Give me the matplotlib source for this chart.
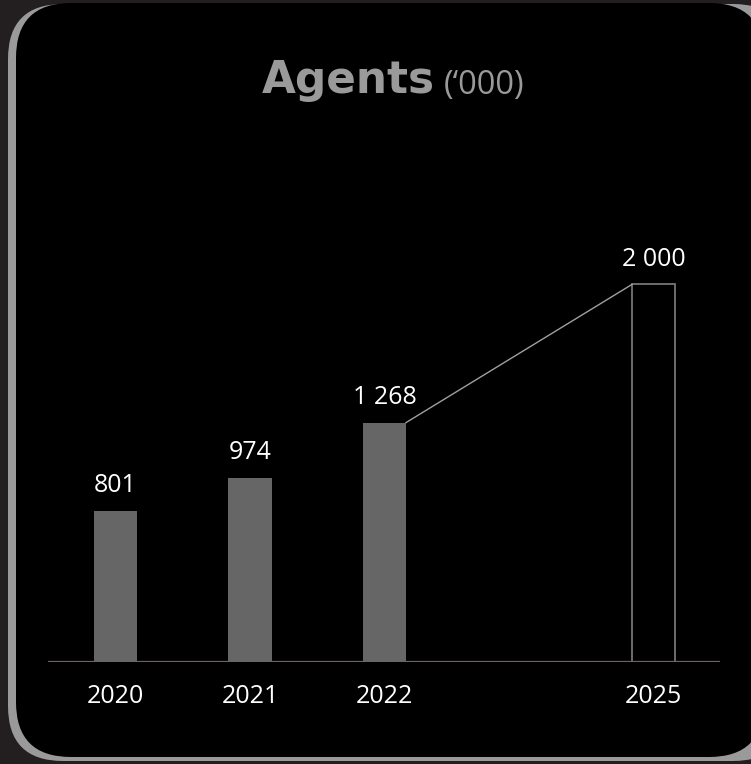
import matplotlib
matplotlib.use("Agg")
import matplotlib.pyplot as plt
from matplotlib.patches import FancyBboxPatch

years = ["2020", "2021", "2022", "2025"]
positions = [0, 1, 2, 4]
values = [801, 974, 1268, 2000]
value_labels = ["801", "974", "1 268", "2 000"]
filled = [True, True, True, False]

W, H = 751, 764
fig = plt.figure(figsize=(W / 100, H / 100), dpi=100)
fig.patch.set_facecolor("#231f20")

# background card
bg = fig.add_axes([0, 0, 1, 1])
bg.set_xlim(0, W)
bg.set_ylim(H, 0)
bg.axis("off")
r = 55
bg.add_patch(FancyBboxPatch((8 + r, 4 + r), 780 - 2 * r, 757 - 2 * r,
                            boxstyle=f"round,pad={r}", fc="#9a9a9a", ec="none"))
bg.add_patch(FancyBboxPatch((16 + r, 3 + r), 748 - 2 * r, 754 - 2 * r,
                            boxstyle=f"round,pad={r}", fc="#000000", ec="none"))

# main axes in pixel geometry
left_px, right_px = 48, 720
base_px, top_px = 662, 262
ax = fig.add_axes([left_px / W, (H - base_px) / H, (right_px - left_px) / W,
                   (base_px - top_px) / H])
ax.set_facecolor("none")
px_per_unit = 134.5
x0 = (left_px - 115.5) / px_per_unit
x1 = (right_px - 115.5) / px_per_unit
ax.set_xlim(x0, x1)
ax.set_ylim(0, (base_px - top_px) / 0.1888)
for s in ax.spines.values():
    s.set_visible(False)
ax.set_xticks([])
ax.set_yticks([])

bw = 0.32
for p, v, f in zip(positions, values, filled):
    if f:
        ax.bar(p, v, width=bw, color="#666666", edgecolor="none", zorder=2)
    else:
        ax.bar(p, v, width=bw, facecolor="none", edgecolor="#767676",
               linewidth=1.3, zorder=2)

# connector line between 2022 and 2025
ax.plot([positions[2] + bw / 2, positions[3] - bw / 2], [values[2], values[3]],
        color="#a0a0a0", lw=1.0, zorder=3)

ax.axhline(0, color="#6e6466", lw=1.6, zorder=4)

font = ["Open Sans", "DejaVu Sans"]
for p, v, lab, yr in zip(positions, values, value_labels, years):
    ax.annotate(lab, (p, v), xytext=(0, 13.6), textcoords="offset points",
                ha="center", va="baseline", color="white", fontsize=18,
                family=font)
    ax.annotate(yr, (p, 0), xytext=(0, -29.3), textcoords="offset points",
                ha="center", va="baseline", color="white", fontsize=18,
                family=font)

# title
fig.text(262 / W, (H - 93) / H, "Agents", ha="left", va="baseline",
         color="#9a9a9a", fontsize=31.5, fontweight="bold", family="DejaVu Sans")
fig.text(444 / W, (H - 94) / H, "(\u2018000)", ha="left", va="baseline",
         color="#9a9a9a", fontsize=23.5, family=font)

fig.savefig("out.png", dpi=100, facecolor=fig.get_facecolor())
